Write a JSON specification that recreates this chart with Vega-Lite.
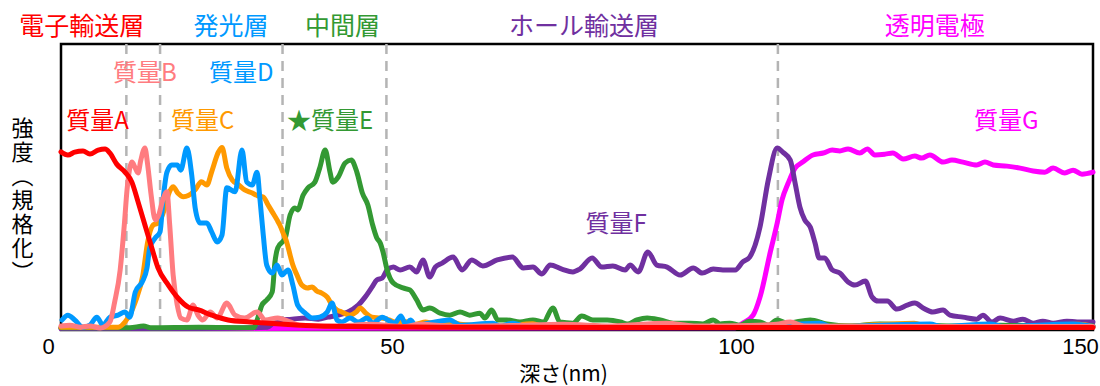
{
  "$schema": "https://vega.github.io/schema/vega-lite/v6.json",
  "width": 1032,
  "height": 286,
  "autosize": {"type": "none"},
  "padding": {"left": 61, "top": 44, "right": 7, "bottom": 56},
  "background": "white",
  "config": {
    "view": {"stroke": "black", "strokeWidth": 2.5},
    "font": "Noto Sans CJK JP",
    "axisX": {"tickCount": 3, "grid": false, "ticks": false, "domain": false,
      "labelFlush": false, "labelOffset": -13, "labelPadding": 6, "labelFont": "Liberation Sans", "labelFontSize": 22, "labelColor": "black",
      "titleFont": "Noto Sans CJK JP", "titleFontSize": 21, "titleFontWeight": "normal", "titleColor": "black",
      "titleX": 502, "titleY": 44, "titleBaseline": "middle", "titleAlign": "center"},
    "axisY": {"labels": false, "ticks": false, "domain": false, "grid": false,
      "titleAngle": 0, "titleAlign": "center", "titleBaseline": "middle", "titleX": -39, "titleY": 84,
      "titleFont": "Noto Sans CJK JP", "titleFontSize": 22, "titleLineHeight": 24, "titleFontWeight": "normal", "titleColor": "black"}
  },
  "datasets": {
    "bounds": [{"d": 9.5}, {"d": 14.4}, {"d": 32.2}, {"d": 47.3}, {"d": 104.2}],
    "A": [
      {"d":0,"v":0.623},{"d":1,"v":0.612},{"d":2,"v":0.622},{"d":3.2,"v":0.626},{"d":4.2,"v":0.615},{"d":5.4,"v":0.629},{"d":6.4,"v":0.633},{"d":7.1,"v":0.619},{"d":8.1,"v":0.58},{"d":9.3,"v":0.552},{"d":10.3,"v":0.517},{"d":11.2,"v":0.448},{"d":12.2,"v":0.367},{"d":13.2,"v":0.287},{"d":14.1,"v":0.217},{"d":15.6,"v":0.157},{"d":17,"v":0.112},{"d":18.5,"v":0.08},{"d":20,"v":0.07},{"d":21.9,"v":0.052},{"d":24.3,"v":0.035},{"d":27.5,"v":0.028},{"d":34.7,"v":0.017},{"d":42,"v":0.012},{"d":55,"v":0.01},{"d":80,"v":0.009},{"d":110,"v":0.009},{"d":150,"v":0.009}
    ],
    "B": [
      {"d":0,"v":0.014},{"d":1.3,"v":0.017},{"d":2.8,"v":0.01},{"d":4.2,"v":0.014},{"d":5.7,"v":0.007},{"d":7.1,"v":0.028},{"d":7.8,"v":0.098},{"d":8.6,"v":0.21},{"d":9.2,"v":0.367},{"d":9.6,"v":0.49},{"d":10.3,"v":0.587},{"d":10.8,"v":0.566},{"d":11.2,"v":0.549},{"d":11.6,"v":0.594},{"d":12.2,"v":0.636},{"d":12.6,"v":0.577},{"d":13.1,"v":0.472},{"d":13.7,"v":0.385},{"d":14.2,"v":0.402},{"d":14.8,"v":0.455},{"d":15.4,"v":0.483},{"d":15.8,"v":0.367},{"d":16.3,"v":0.192},{"d":16.9,"v":0.087},{"d":17.4,"v":0.042},{"d":18.3,"v":0.035},{"d":19.2,"v":0.087},{"d":19.9,"v":0.052},{"d":20.6,"v":0.035},{"d":21.7,"v":0.063},{"d":22.7,"v":0.042},{"d":24.1,"v":0.094},{"d":25.3,"v":0.052},{"d":26.7,"v":0.042},{"d":28.5,"v":0.063},{"d":29.7,"v":0.035},{"d":31.5,"v":0.042},{"d":33.3,"v":0.028},{"d":34.7,"v":0.017},{"d":40,"v":0.014},{"d":45,"v":0.02},{"d":50,"v":0.012},{"d":52,"v":0.02},{"d":58,"v":0.012},{"d":66,"v":0.016},{"d":73,"v":0.02},{"d":80,"v":0.014},{"d":88,"v":0.024},{"d":92,"v":0.014},{"d":100,"v":0.016},{"d":104,"v":0.02},{"d":106,"v":0.028},{"d":108,"v":0.014},{"d":120,"v":0.012},{"d":135,"v":0.012},{"d":150,"v":0.012}
    ],
    "C": [
      {"d":0,"v":0.01},{"d":5,"v":0.01},{"d":8.3,"v":0.01},{"d":9.3,"v":0.028},{"d":10.8,"v":0.098},{"d":11.9,"v":0.192},{"d":12.6,"v":0.308},{"d":13.4,"v":0.367},{"d":14.1,"v":0.374},{"d":15.1,"v":0.427},{"d":15.6,"v":0.472},{"d":16.3,"v":0.501},{"d":17,"v":0.478},{"d":17.8,"v":0.466},{"d":18.5,"v":0.47},{"d":19.5,"v":0.49},{"d":20.4,"v":0.518},{"d":21.2,"v":0.507},{"d":21.9,"v":0.553},{"d":22.9,"v":0.623},{"d":23.4,"v":0.638},{"d":24.1,"v":0.566},{"d":24.9,"v":0.524},{"d":25.7,"v":0.51},{"d":26.7,"v":0.49},{"d":27.8,"v":0.479},{"d":28.6,"v":0.469},{"d":29.4,"v":0.465},{"d":30.1,"v":0.437},{"d":30.7,"v":0.413},{"d":31.4,"v":0.385},{"d":31.8,"v":0.367},{"d":32.4,"v":0.332},{"d":32.8,"v":0.308},{"d":33.3,"v":0.262},{"d":33.7,"v":0.227},{"d":34.3,"v":0.192},{"d":35,"v":0.157},{"d":35.8,"v":0.147},{"d":36.5,"v":0.15},{"d":37.2,"v":0.136},{"d":37.9,"v":0.129},{"d":38.7,"v":0.115},{"d":39.4,"v":0.087},{"d":40.1,"v":0.07},{"d":40.8,"v":0.063},{"d":42,"v":0.052},{"d":42.9,"v":0.063},{"d":43.5,"v":0.077},{"d":44.3,"v":0.059},{"d":45.2,"v":0.045},{"d":46.4,"v":0.042},{"d":47.8,"v":0.035},{"d":48.5,"v":0.028},{"d":50,"v":0.03},{"d":51.5,"v":0.02},{"d":53,"v":0.028},{"d":55,"v":0.018},{"d":56.5,"v":0.03},{"d":58,"v":0.02},{"d":61,"v":0.016},{"d":64,"v":0.012},{"d":68.6,"v":0.022},{"d":70,"v":0.012},{"d":76,"v":0.014},{"d":80,"v":0.012},{"d":86,"v":0.016},{"d":92,"v":0.012},{"d":100,"v":0.012},{"d":106,"v":0.016},{"d":112,"v":0.012},{"d":124,"v":0.024},{"d":126,"v":0.012},{"d":140,"v":0.012},{"d":148,"v":0.02},{"d":150,"v":0.012}
    ],
    "D": [
      {"d":0.15,"v":0.035},{"d":1,"v":0.052},{"d":2,"v":0.035},{"d":3.2,"v":0.01},{"d":4.2,"v":0.017},{"d":5.2,"v":0.045},{"d":6.1,"v":0.017},{"d":7.1,"v":0.045},{"d":8.3,"v":0.052},{"d":9.3,"v":0.063},{"d":10,"v":0.045},{"d":10.8,"v":0.133},{"d":11.8,"v":0.168},{"d":12.5,"v":0.217},{"d":12.9,"v":0.287},{"d":13.7,"v":0.322},{"d":14.4,"v":0.343},{"d":14.8,"v":0.448},{"d":15.4,"v":0.552},{"d":16.1,"v":0.577},{"d":16.9,"v":0.577},{"d":17.4,"v":0.559},{"d":18.3,"v":0.636},{"d":19,"v":0.542},{"d":19.5,"v":0.427},{"d":20.2,"v":0.374},{"d":21.2,"v":0.374},{"d":21.9,"v":0.343},{"d":22.7,"v":0.308},{"d":23.4,"v":0.332},{"d":24.1,"v":0.497},{"d":25.3,"v":0.483},{"d":26.3,"v":0.629},{"d":27,"v":0.517},{"d":27.8,"v":0.507},{"d":28.5,"v":0.552},{"d":28.9,"v":0.462},{"d":29.4,"v":0.332},{"d":29.9,"v":0.227},{"d":30.7,"v":0.199},{"d":31.4,"v":0.227},{"d":32.1,"v":0.192},{"d":33,"v":0.21},{"d":33.7,"v":0.157},{"d":34.4,"v":0.087},{"d":35.5,"v":0.059},{"d":36.5,"v":0.042},{"d":37.6,"v":0.045},{"d":38.7,"v":0.063},{"d":39.4,"v":0.094},{"d":40.1,"v":0.035},{"d":40.8,"v":0.028},{"d":42,"v":0.042},{"d":43.2,"v":0.028},{"d":44.5,"v":0.042},{"d":45.3,"v":0.024},{"d":46.7,"v":0.045},{"d":47.5,"v":0.035},{"d":48.5,"v":0.024},{"d":49.4,"v":0.049},{"d":50.1,"v":0.02},{"d":50.8,"v":0.035},{"d":51.5,"v":0.017},{"d":56.5,"v":0.035},{"d":58,"v":0.017},{"d":62.8,"v":0.024},{"d":63.8,"v":0.014},{"d":65.7,"v":0.024},{"d":67.4,"v":0.014},{"d":80,"v":0.012},{"d":100,"v":0.012},{"d":110.3,"v":0.024},{"d":111.8,"v":0.012},{"d":126.3,"v":0.021},{"d":128,"v":0.012},{"d":135,"v":0.021},{"d":137,"v":0.012},{"d":147.1,"v":0.021},{"d":150,"v":0.012}
    ],
    "E": [
      {"d":0,"v":0.008},{"d":10,"v":0.008},{"d":12,"v":0.014},{"d":13,"v":0.008},{"d":20,"v":0.01},{"d":28,"v":0.008},{"d":28.6,"v":0.042},{"d":29.2,"v":0.087},{"d":29.9,"v":0.105},{"d":30.7,"v":0.133},{"d":31.1,"v":0.238},{"d":31.5,"v":0.287},{"d":32.6,"v":0.322},{"d":33.3,"v":0.402},{"d":34,"v":0.427},{"d":34.4,"v":0.42},{"d":35.2,"v":0.472},{"d":35.9,"v":0.497},{"d":36.9,"v":0.517},{"d":37.6,"v":0.566},{"d":38.4,"v":0.629},{"d":39.1,"v":0.552},{"d":39.5,"v":0.517},{"d":40.3,"v":0.535},{"d":41.3,"v":0.584},{"d":42.2,"v":0.594},{"d":43,"v":0.552},{"d":43.8,"v":0.479},{"d":44.6,"v":0.437},{"d":45.3,"v":0.367},{"d":45.9,"v":0.322},{"d":46.4,"v":0.304},{"d":46.8,"v":0.273},{"d":47.4,"v":0.21},{"d":48.3,"v":0.164},{"d":49.7,"v":0.147},{"d":50.7,"v":0.14},{"d":51.7,"v":0.105},{"d":52.6,"v":0.07},{"d":53.6,"v":0.077},{"d":55.1,"v":0.059},{"d":56.5,"v":0.052},{"d":58,"v":0.063},{"d":59.4,"v":0.052},{"d":60.9,"v":0.059},{"d":61.6,"v":0.042},{"d":62.6,"v":0.07},{"d":63.5,"v":0.035},{"d":64.8,"v":0.035},{"d":66.7,"v":0.028},{"d":68.6,"v":0.035},{"d":70.1,"v":0.028},{"d":71.5,"v":0.077},{"d":72.5,"v":0.028},{"d":74.4,"v":0.024},{"d":75.7,"v":0.049},{"d":77.3,"v":0.035},{"d":79.4,"v":0.035},{"d":81.3,"v":0.028},{"d":82.3,"v":0.021},{"d":83.7,"v":0.035},{"d":85.2,"v":0.042},{"d":87.1,"v":0.035},{"d":89,"v":0.024},{"d":91.4,"v":0.024},{"d":93.3,"v":0.021},{"d":94.8,"v":0.035},{"d":95.8,"v":0.021},{"d":97.2,"v":0.024},{"d":98.7,"v":0.017},{"d":100.1,"v":0.031},{"d":101.6,"v":0.028},{"d":102.8,"v":0.017},{"d":104.1,"v":0.035},{"d":105.5,"v":0.024},{"d":108.9,"v":0.035},{"d":111.3,"v":0.021},{"d":114.7,"v":0.014},{"d":119,"v":0.021},{"d":124.9,"v":0.017},{"d":130.7,"v":0.014},{"d":136.5,"v":0.017},{"d":143.8,"v":0.014},{"d":150,"v":0.014}
    ],
    "F": [
      {"d":0,"v":0.005},{"d":20,"v":0.005},{"d":30,"v":0.01},{"d":31.5,"v":0.035},{"d":33.6,"v":0.038},{"d":35.5,"v":0.042},{"d":37.4,"v":0.038},{"d":38.8,"v":0.045},{"d":40.3,"v":0.052},{"d":41.7,"v":0.063},{"d":43.2,"v":0.087},{"d":44.2,"v":0.115},{"d":45.2,"v":0.15},{"d":45.9,"v":0.175},{"d":46.7,"v":0.182},{"d":47.4,"v":0.21},{"d":48.3,"v":0.22},{"d":49.3,"v":0.21},{"d":50.7,"v":0.22},{"d":51.7,"v":0.203},{"d":52.6,"v":0.245},{"d":53.6,"v":0.185},{"d":54.4,"v":0.22},{"d":55.4,"v":0.234},{"d":57,"v":0.255},{"d":58.3,"v":0.21},{"d":59.7,"v":0.245},{"d":61.3,"v":0.224},{"d":63.4,"v":0.245},{"d":65.6,"v":0.255},{"d":67.2,"v":0.217},{"d":68.6,"v":0.22},{"d":69.9,"v":0.196},{"d":71.1,"v":0.227},{"d":72.8,"v":0.213},{"d":74.4,"v":0.203},{"d":75.4,"v":0.213},{"d":77.2,"v":0.252},{"d":78.6,"v":0.22},{"d":80.2,"v":0.224},{"d":82,"v":0.21},{"d":82.7,"v":0.227},{"d":83.9,"v":0.203},{"d":85.3,"v":0.273},{"d":86.6,"v":0.227},{"d":88.1,"v":0.22},{"d":90,"v":0.192},{"d":91.9,"v":0.217},{"d":93.2,"v":0.199},{"d":94.8,"v":0.213},{"d":96.2,"v":0.21},{"d":98,"v":0.21},{"d":99.1,"v":0.238},{"d":100.1,"v":0.255},{"d":101.6,"v":0.36},{"d":102.8,"v":0.524},{"d":104.1,"v":0.636},{"d":104.9,"v":0.622},{"d":106,"v":0.594},{"d":106.7,"v":0.514},{"d":107.4,"v":0.43},{"d":108.1,"v":0.385},{"d":108.9,"v":0.36},{"d":109.6,"v":0.304},{"d":110.2,"v":0.252},{"d":111,"v":0.252},{"d":112.1,"v":0.21},{"d":113.2,"v":0.199},{"d":114.4,"v":0.168},{"d":115.4,"v":0.157},{"d":116.9,"v":0.171},{"d":117.9,"v":0.115},{"d":118.8,"v":0.101},{"d":120.1,"v":0.101},{"d":121.5,"v":0.073},{"d":123,"v":0.087},{"d":124.1,"v":0.094},{"d":125.3,"v":0.077},{"d":126.7,"v":0.063},{"d":128.2,"v":0.07},{"d":129.2,"v":0.052},{"d":131.1,"v":0.045},{"d":133.1,"v":0.038},{"d":134,"v":0.052},{"d":135.3,"v":0.028},{"d":136.5,"v":0.042},{"d":138.4,"v":0.031},{"d":139.8,"v":0.038},{"d":141.3,"v":0.024},{"d":142.7,"v":0.031},{"d":144.2,"v":0.024},{"d":146.2,"v":0.031},{"d":147.7,"v":0.028},{"d":150,"v":0.028}
    ],
    "G": [
      {"d":0,"v":0.005},{"d":98,"v":0.008},{"d":99.1,"v":0.024},{"d":100.6,"v":0.052},{"d":101.6,"v":0.115},{"d":103.1,"v":0.273},{"d":104.1,"v":0.374},{"d":104.8,"v":0.455},{"d":105.7,"v":0.514},{"d":106.7,"v":0.566},{"d":107.8,"v":0.587},{"d":109.3,"v":0.612},{"d":110.8,"v":0.619},{"d":112.1,"v":0.629},{"d":113.2,"v":0.626},{"d":114.4,"v":0.633},{"d":116.1,"v":0.619},{"d":117.2,"v":0.633},{"d":118.3,"v":0.612},{"d":119.8,"v":0.615},{"d":120.9,"v":0.619},{"d":122.4,"v":0.598},{"d":124.1,"v":0.608},{"d":125.1,"v":0.601},{"d":126.3,"v":0.612},{"d":128.2,"v":0.587},{"d":129.5,"v":0.594},{"d":131.1,"v":0.587},{"d":133.1,"v":0.577},{"d":134.3,"v":0.587},{"d":135.5,"v":0.577},{"d":137.5,"v":0.573},{"d":139.4,"v":0.566},{"d":141.3,"v":0.556},{"d":143,"v":0.552},{"d":144.2,"v":0.566},{"d":145.9,"v":0.549},{"d":147.1,"v":0.559},{"d":148.4,"v":0.545},{"d":150,"v":0.552}
    ],
    "layerLabels": [
      {"t":"電子輸送層","d":3.0,"v":1.058,"s":"A"},
      {"t":"発光層","d":24.7,"v":1.058,"s":"D"},
      {"t":"中間層","d":40.9,"v":1.058,"s":"E"},
      {"t":"ホール輸送層","d":76.0,"v":1.058,"s":"F"},
      {"t":"透明電極","d":127.0,"v":1.058,"s":"G"}
    ],
    "massLabels": [
      {"t":"質量A","d":5.3,"v":0.727,"s":"A"},
      {"t":"質量B","d":12.2,"v":0.895,"s":"B"},
      {"t":"質量C","d":20.6,"v":0.727,"s":"C"},
      {"t":"質量D","d":26.2,"v":0.895,"s":"D"},
      {"t":"★質量E","d":39.1,"v":0.727,"s":"E"},
      {"t":"質量F","d":80.7,"v":0.367,"s":"F"},
      {"t":"質量G","d":137.4,"v":0.727,"s":"G"}
    ]
  },
  "encoding": {
    "x": {"field": "d", "type": "quantitative", "title": "深さ(nm)", "scale": {"domain": [0, 150], "nice": false, "zero": false}}
  },
  "layer": [
    {
      "data": {"name": "bounds"},
      "mark": {"type": "rule", "color": "#B4B4B4", "strokeWidth": 2.5, "strokeDash": [10, 7]},
      "encoding": {}
    },
    {
      "data": {"name": "G"},
      "mark": {"type": "line", "strokeWidth": 5, "interpolate": "monotone", "strokeCap": "round", "strokeJoin": "round"},
      "encoding": {
        "y": {"field": "v", "type": "quantitative", "title": ["強", "度", "︵", "規", "格", "化", "︶"], "scale": {"domain": [0, 1], "nice": false, "zero": false}},
        "color": {"datum": "G", "type": "nominal"}
      }
    },
    {
      "data": {"name": "F"},
      "mark": {"type": "line", "strokeWidth": 5, "interpolate": "monotone", "strokeCap": "round", "strokeJoin": "round"},
      "encoding": {
        "y": {"field": "v", "type": "quantitative", "title": ["強", "度", "︵", "規", "格", "化", "︶"]},
        "color": {"datum": "F", "type": "nominal"}
      }
    },
    {
      "data": {"name": "E"},
      "mark": {"type": "line", "strokeWidth": 5, "interpolate": "monotone", "strokeCap": "round", "strokeJoin": "round"},
      "encoding": {
        "y": {"field": "v", "type": "quantitative", "title": ["強", "度", "︵", "規", "格", "化", "︶"]},
        "color": {"datum": "E", "type": "nominal"}
      }
    },
    {
      "data": {"name": "C"},
      "mark": {"type": "line", "strokeWidth": 5, "interpolate": "monotone", "strokeCap": "round", "strokeJoin": "round"},
      "encoding": {
        "y": {"field": "v", "type": "quantitative", "title": ["強", "度", "︵", "規", "格", "化", "︶"]},
        "color": {"datum": "C", "type": "nominal"}
      }
    },
    {
      "data": {"name": "D"},
      "mark": {"type": "line", "strokeWidth": 5, "interpolate": "monotone", "strokeCap": "round", "strokeJoin": "round"},
      "encoding": {
        "y": {"field": "v", "type": "quantitative", "title": ["強", "度", "︵", "規", "格", "化", "︶"]},
        "color": {"datum": "D", "type": "nominal"}
      }
    },
    {
      "data": {"name": "B"},
      "mark": {"type": "line", "strokeWidth": 5, "interpolate": "monotone", "strokeCap": "round", "strokeJoin": "round"},
      "encoding": {
        "y": {"field": "v", "type": "quantitative", "title": ["強", "度", "︵", "規", "格", "化", "︶"]},
        "color": {"datum": "B", "type": "nominal"}
      }
    },
    {
      "data": {"name": "A"},
      "mark": {"type": "line", "strokeWidth": 5, "interpolate": "monotone", "strokeCap": "round", "strokeJoin": "round"},
      "encoding": {
        "y": {"field": "v", "type": "quantitative", "title": ["強", "度", "︵", "規", "格", "化", "︶"]},
        "color": {"datum": "A", "type": "nominal"}
      }
    },
    {
      "data": {"name": "layerLabels"},
      "mark": {"type": "text", "font": "Noto Sans CJK JP", "fontSize": 25, "baseline": "middle", "align": "center"},
      "encoding": {
        "y": {"field": "v", "type": "quantitative", "title": ["強", "度", "︵", "規", "格", "化", "︶"]},
        "text": {"field": "t"},
        "color": {"field": "s", "type": "nominal",
          "scale": {"domain": ["A", "B", "C", "D", "E", "F", "G"], "range": ["#FF0000", "#FF7C80", "#FF9900", "#0099FF", "#339933", "#7030A0", "#FF00FF"]},
          "legend": null}
      }
    },
    {
      "data": {"name": "massLabels"},
      "mark": {"type": "text", "font": "Noto Sans CJK JP", "fontSize": 24, "baseline": "middle", "align": "center"},
      "encoding": {
        "y": {"field": "v", "type": "quantitative", "title": ["強", "度", "︵", "規", "格", "化", "︶"]},
        "text": {"field": "t"},
        "color": {"field": "s", "type": "nominal", "legend": null}
      }
    }
  ]
}
